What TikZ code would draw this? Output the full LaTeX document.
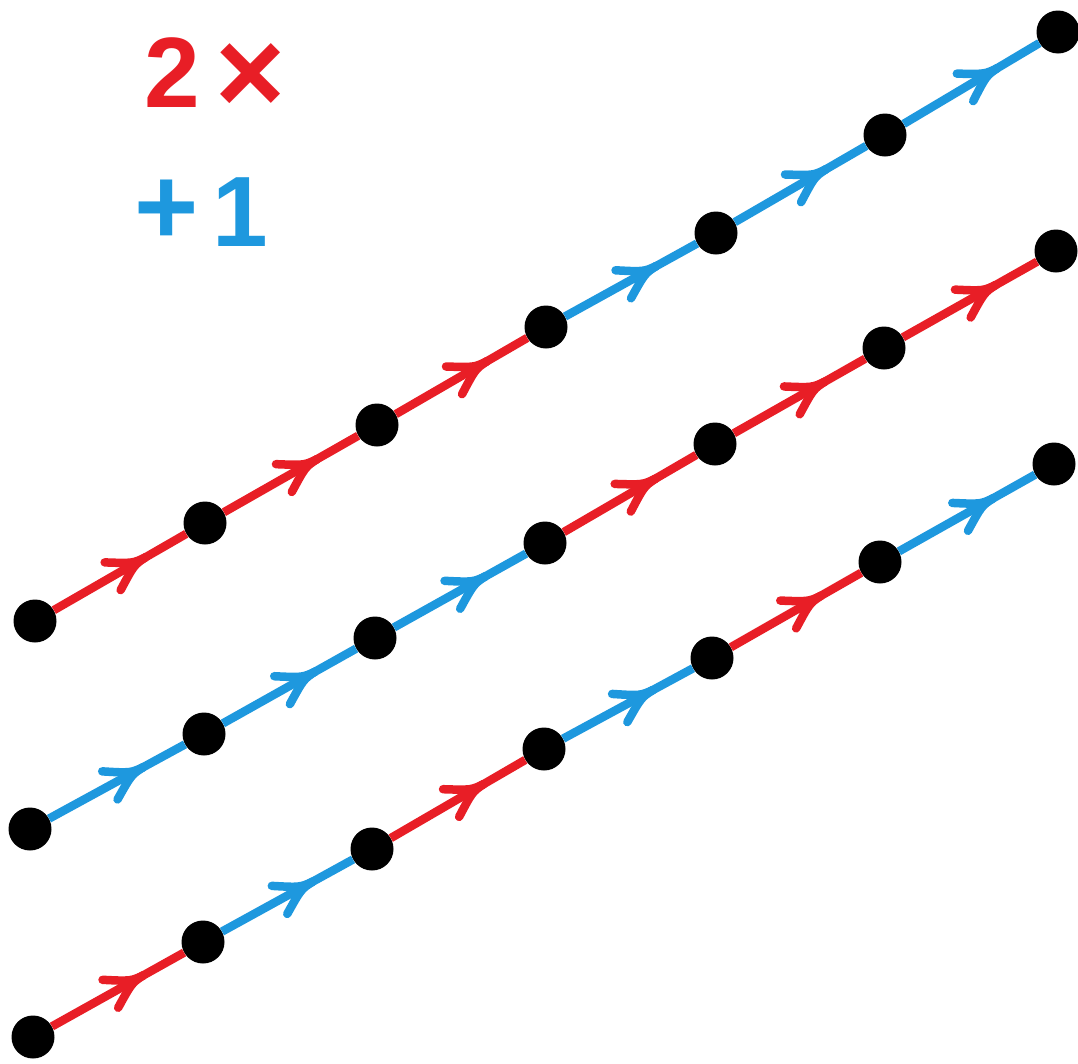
\documentclass[tikz,border=0pt]{standalone}
\usepackage{fontspec}
\setmainfont{Liberation Sans}
\usetikzlibrary{decorations.markings}
\definecolor{segred}{RGB}{232,30,38}
\definecolor{segblue}{RGB}{30,152,222}
\begin{document}
\begin{tikzpicture}[x=1pt,y=-1pt,
  dot/.style={circle,fill=black,minimum size=43pt,inner sep=0pt},
  seg/.style={draw=#1,line width=8.5pt,
    decoration={markings,mark=at position 0.68 with {
      \fill[#1] (4pt,0pt) -- (-18pt,7pt) -- (-18pt,-7pt) -- cycle;
      \draw[#1,line width=8.5pt,line cap=round] (2pt,0pt) .. controls (-12pt,1pt) .. (-36pt,16pt);
      \draw[#1,line width=8.5pt,line cap=round] (2pt,0pt) .. controls (-12pt,-1pt) .. (-36pt,-16pt);}},
    postaction={decorate}},
  lbl/.style={inner sep=0pt,font=\fontsize{100}{100}\selectfont\bfseries}]
\useasboundingbox (0,0) rectangle (1078,1063);
% labels
\node[lbl,text=segred] (t2) at (172,73) {2};
\node[lbl,text=segred,font=\fontsize{120}{120}\selectfont\bfseries] (tx) at (251,79) {×};
\node[lbl,text=segblue,font=\fontsize{110}{110}\selectfont\bfseries] (tp) at (167,212) {+};
\node[lbl,text=segblue] (t1) at (240,212) {1};
% line A
\foreach \n/\x/\y in {1/35/621,2/205/523,3/377/425,4/546/327,5/716/233,6/885/135,7/1058/32}
  \node[dot] (a\n) at (\x,\y) {};
% line B
\foreach \n/\x/\y in {1/30/829,2/204/734,3/375/638,4/545/543,5/715/444,6/884/348,7/1056/251}
  \node[dot] (b\n) at (\x,\y) {};
% line C
\foreach \n/\x/\y in {1/33/1037,2/203/942,3/372/849,4/544/749,5/712/658,6/880/562,7/1054/464}
  \node[dot] (c\n) at (\x,\y) {};
\draw[seg=segred] (a1) -- (a2);
\draw[seg=segred] (a2) -- (a3);
\draw[seg=segred] (a3) -- (a4);
\draw[seg=segblue] (a4) -- (a5);
\draw[seg=segblue] (a5) -- (a6);
\draw[seg=segblue] (a6) -- (a7);
\draw[seg=segblue] (b1) -- (b2);
\draw[seg=segblue] (b2) -- (b3);
\draw[seg=segblue] (b3) -- (b4);
\draw[seg=segred] (b4) -- (b5);
\draw[seg=segred] (b5) -- (b6);
\draw[seg=segred] (b6) -- (b7);
\draw[seg=segred] (c1) -- (c2);
\draw[seg=segblue] (c2) -- (c3);
\draw[seg=segred] (c3) -- (c4);
\draw[seg=segblue] (c4) -- (c5);
\draw[seg=segred] (c5) -- (c6);
\draw[seg=segblue] (c6) -- (c7);
\end{tikzpicture}
\end{document}
